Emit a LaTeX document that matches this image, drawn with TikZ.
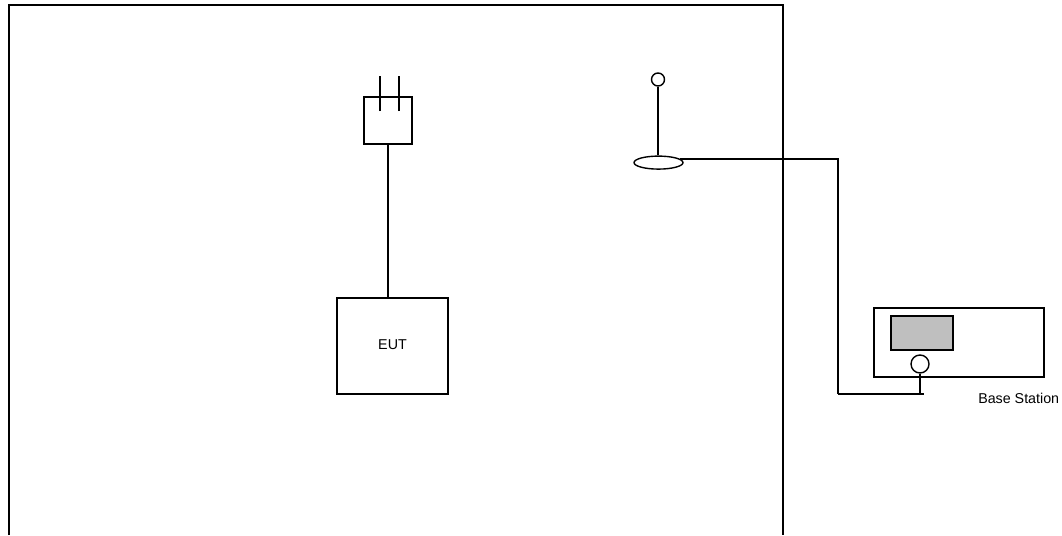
\documentclass[tikz,border=0pt]{standalone}
\usepackage{fontspec}
\setmainfont{Liberation Sans}
\usetikzlibrary{shapes.geometric}
\tikzset{
  ln/.style={draw=black,line width=1.05pt},
  lab/.style={inner sep=0pt,font=\fontsize{10.7}{13}\selectfont},
}
\begin{document}
\begin{tikzpicture}[x=0.75pt,y=-0.75pt,line join=miter]
\useasboundingbox (0,0) rectangle (1062,535);
\coordinate (rtl) at (9,5);
\coordinate (rtr) at (783,5);
\coordinate (rbl) at (9,535);
\coordinate (rbr) at (783,535);
\draw[ln] (rbl) -- (rtl) -- (rtr) -- (rbr);
% plug
\node[ln,minimum width=48pt*0.75,minimum height=47pt*0.75,inner sep=0pt] (plug) at (388,120.5) {};
\coordinate (p1a) at (380,111); \coordinate (p1b) at (380,76);
\coordinate (p2a) at (399,111); \coordinate (p2b) at (399,76);
\draw[ln] (p1a) -- (p1b);
\draw[ln] (p2a) -- (p2b);
\node[ln,minimum width=111pt*0.75,minimum height=96pt*0.75,inner sep=0pt] (eut) at (392.5,346) {};
\node[lab] (eutlab) at (392.5,345) {EUT};
\coordinate (eutin) at (plug.south |- eut.north);
\draw[ln] (plug.south) -- (eutin);
% antenna
\node[ln,circle,minimum size=13pt*0.75,inner sep=0pt] (tip) at (658,79.5) {};
\node[ln,ellipse,minimum width=49pt*0.75,minimum height=13pt*0.75,inner sep=0pt] (ant) at (658.5,162.6) {};
\draw[ln] (tip.south) -- (tip.south |- ant.north);
% base station
\node[ln,minimum width=170pt*0.75,minimum height=69pt*0.75,inner sep=0pt] (bs) at (959,342.5) {};
\node[ln,fill=black!25,minimum width=62pt*0.75,minimum height=34pt*0.75,inner sep=0pt] (scr) at (922,333) {};
\node[ln,circle,minimum size=18pt*0.75,inner sep=0pt] (knob) at (920,364) {};
\coordinate (c1) at (838,159);
\coordinate (c2) at (837.5,394);
\coordinate (c3) at (924,394);
\coordinate (c4) at (knob.south |- c3);
\coordinate (w1) at (683,159);
\draw[ln] (ant.10 |- w1) -- (c1) -- (c1 |- c2);
\draw[ln] (c2) -- (c3);
\draw[ln] (knob.south) -- (c4);
\node[lab,anchor=west] (bslab) at (978,398) {Base Station};
\end{tikzpicture}
\end{document}
